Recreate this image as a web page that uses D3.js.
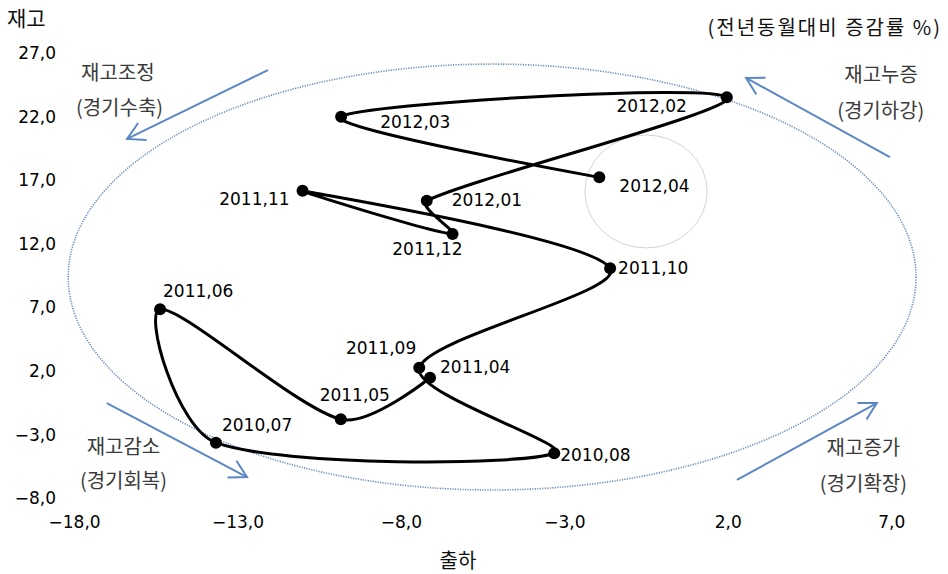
<!DOCTYPE html>
<html>
<head>
<meta charset="utf-8">
<script src="https://cdn.jsdelivr.net/npm/d3@7"></script>
<style>
  html, body { margin: 0; padding: 0; background: #fff; }
  svg { display: block; }
</style>
</head>
<body>
<svg id="chart" width="948" height="574"></svg>
<script>
// ---- data (in chronological drawing order) ----
const periods = ["2011,04","2011,05","2011,06","2010,07","2010,08","2011,09","2011,10","2011,11","2011,12","2012,01","2012,02","2012,03","2012,04"];
const shipments = [-7.11, -9.84, -15.37, -13.66, -3.31, -7.44, -1.60, -11.01, -6.42, -7.21, 1.97, -9.83, -1.93];
const inventory = [1.42, -1.85, 6.80, -3.69, -4.52, 2.21, 10.03, 16.13, 12.72, 15.34, 23.48, 21.95, 17.18];
// label offsets (px) relative to marker: [dx, dy, anchor]
const labelPos = [
  [10, -5, "start"], [14, -18, "middle"], [3, -12, "start"], [6, -12, "start"],
  [6, 8, "start"], [-3, -14, "end"], [8, 6, "start"], [-13, 14, "end"],
  [10, 21, "end"], [25, 5, "start"], [-40, 15, "end"], [39, 11, "start"], [20, 15, "start"]
];
const xTicks = [-18, -13, -8, -3, 2, 7];
const yTicks = [-8, -3, 2, 7, 12, 17, 22, 27];

// annotations (data units)
const quadrantText = [
  {x: -16.66, y: 25.39, t: "재고조정"}, {x: -16.61, y: 22.63, t: "(경기수축)"},
  {x: 6.69, y: 25.23, t: "재고누증"}, {x: 6.68, y: 22.4, t: "(경기하강)"},
  {x: -16.49, y: -4.03, t: "재고감소"}, {x: -16.49, y: -6.7, t: "(경기회복)"},
  {x: 6.15, y: -4.11, t: "재고증가"}, {x: 6.15, y: -6.94, t: "(경기확장)"}
];
const arrows = [
  {x1: -12.07, y1: 25.62, x2: -16.38, y2: 20.2},
  {x1: 6.96, y1: 18.78, x2: 2.56, y2: 25.0},
  {x1: -17.0, y1: -0.57, x2: -12.71, y2: -6.39},
  {x1: 2.28, y1: -6.62, x2: 6.56, y2: -0.57}
];
const bigEllipse = {cx: -5.21, cy: 9.34, rx: 12.97, ry: 16.75};
const smallCircle = {cx: -0.5, cy: 16.07, rx: 1.87, ry: 4.44};

// ---- chart ----
const svg = d3.select("#chart");
const x = d3.scaleLinear().domain([-18, 7]).range([74.1, 891.2]);
const y = d3.scaleLinear().domain([-8, 27]).range([497.5, 52.5]);
const fmt = v => d3.format(".1f")(v).replace(".", ",").replace("-", "−");
const numFont = "'DejaVu Sans', sans-serif";
const krFont = "'Noto Sans CJK KR', sans-serif";

// axes (labels only, no lines)
const xAxis = d3.axisBottom(x).tickValues(xTicks).tickFormat(fmt).tickSize(0).tickPadding(0);
const gx = svg.append("g").attr("transform", "translate(0,516)").call(xAxis);
gx.select(".domain").remove();
gx.selectAll("text").attr("font-family", numFont).attr("font-size", 17).attr("fill", "#000").attr("dy", "0.71em");

const yAxis = d3.axisLeft(y).tickValues(yTicks).tickFormat(fmt).tickSize(0).tickPadding(0);
const gy = svg.append("g").attr("transform", "translate(56,0)").call(yAxis);
gy.select(".domain").remove();
gy.selectAll("text").attr("font-family", numFont).attr("font-size", 17).attr("fill", "#000").attr("dy", "0.36em");

// ellipse annotations
svg.append("ellipse")
  .attr("cx", x(bigEllipse.cx)).attr("cy", y(bigEllipse.cy))
  .attr("rx", x(bigEllipse.cx + bigEllipse.rx) - x(bigEllipse.cx))
  .attr("ry", y(bigEllipse.cy - bigEllipse.ry) - y(bigEllipse.cy))
  .attr("fill", "none").attr("stroke", "#4f78b5").attr("stroke-width", 1.6)
  .attr("stroke-dasharray", "1.2,1.3").attr("opacity", 0.85);
svg.append("ellipse")
  .attr("cx", x(smallCircle.cx)).attr("cy", y(smallCircle.cy))
  .attr("rx", x(smallCircle.cx + smallCircle.rx) - x(smallCircle.cx))
  .attr("ry", y(smallCircle.cy - smallCircle.ry) - y(smallCircle.cy))
  .attr("fill", "none").attr("stroke", "#c8c8c8").attr("stroke-width", 0.8);

// arrows
const defs = svg.append("defs");
defs.append("marker").attr("id", "ah").attr("viewBox", "-20 -12 22 24")
  .attr("refX", 0).attr("refY", 0).attr("markerWidth", 22).attr("markerHeight", 24)
  .attr("markerUnits", "userSpaceOnUse").attr("orient", "auto")
  .append("path").attr("d", "M-17,-9.5 L0,0 L-17,9.5")
  .attr("fill", "none").attr("stroke", "#5b87c5").attr("stroke-width", 2);
svg.selectAll(".arr").data(arrows).enter().append("line")
  .attr("x1", d => x(d.x1)).attr("y1", d => y(d.y1))
  .attr("x2", d => x(d.x2)).attr("y2", d => y(d.y2))
  .attr("stroke", "#5b87c5").attr("stroke-width", 2).attr("marker-end", "url(#ah)");

// quadrant labels
svg.selectAll(".qt").data(quadrantText).enter().append("text")
  .attr("x", d => x(d.x)).attr("y", d => y(d.y)).attr("dy", "0.35em")
  .attr("text-anchor", "middle").attr("font-family", krFont).attr("font-size", 20)
  .attr("fill", "#3a3a3a").text(d => d.t);

// titles
svg.append("text").attr("x", 7).attr("y", 26).attr("font-family", krFont)
  .attr("font-size", 21).attr("fill", "#111").text("재고");
svg.append("text").attr("x", 942).attr("y", 35).attr("text-anchor", "end").attr("font-family", krFont)
  .attr("font-size", 20).attr("letter-spacing", 2).attr("fill", "#111").text("(전년동월대비 증감률 %)");
svg.append("text").attr("x", 458).attr("y", 568).attr("text-anchor", "middle").attr("font-family", krFont)
  .attr("font-size", 20).attr("fill", "#111").text("출하");

// series line: smoothed (Catmull-Rom tangents, arms limited by neighbouring segment length)
const pts = periods.map((p, i) => ({p, sx: shipments[i], inv: inventory[i], lp: labelPos[i]}));
const P = pts.map(d => [x(d.sx), y(d.inv)]);
const dist = (a, b) => Math.hypot(b[0] - a[0], b[1] - a[1]);
function arms(i) {
  if (i === 0 || i === P.length - 1) return {inC: P[i], outC: P[i]};
  const tx = (P[i + 1][0] - P[i - 1][0]) / 6, ty = (P[i + 1][1] - P[i - 1][1]) / 6;
  const dp = dist(P[i - 1], P[i]), dn = dist(P[i], P[i + 1]);
  const fIn = Math.min(1, 2 * dp / (dp + dn)), fOut = Math.min(1, 2 * dn / (dp + dn));
  return {inC: [P[i][0] - tx * fIn, P[i][1] - ty * fIn], outC: [P[i][0] + tx * fOut, P[i][1] + ty * fOut]};
}
const A = P.map((_, i) => arms(i));
const pth = d3.path();
pth.moveTo(P[0][0], P[0][1]);
for (let i = 0; i < P.length - 1; i++) {
  pth.bezierCurveTo(A[i].outC[0], A[i].outC[1], A[i + 1].inC[0], A[i + 1].inC[1], P[i + 1][0], P[i + 1][1]);
}
svg.append("path").attr("d", pth.toString())
  .attr("fill", "none").attr("stroke", "#000").attr("stroke-width", 3).attr("stroke-linejoin", "round");
svg.selectAll(".pt").data(pts).enter().append("circle")
  .attr("cx", d => x(d.sx)).attr("cy", d => y(d.inv)).attr("r", 6).attr("fill", "#000");
svg.selectAll(".lb").data(pts).enter().append("text")
  .attr("x", d => x(d.sx) + d.lp[0]).attr("y", d => y(d.inv) + d.lp[1])
  .attr("text-anchor", d => d.lp[2]).attr("font-family", numFont).attr("font-size", 17)
  .attr("fill", "#000").text(d => d.p);
</script>
</body>
</html>
